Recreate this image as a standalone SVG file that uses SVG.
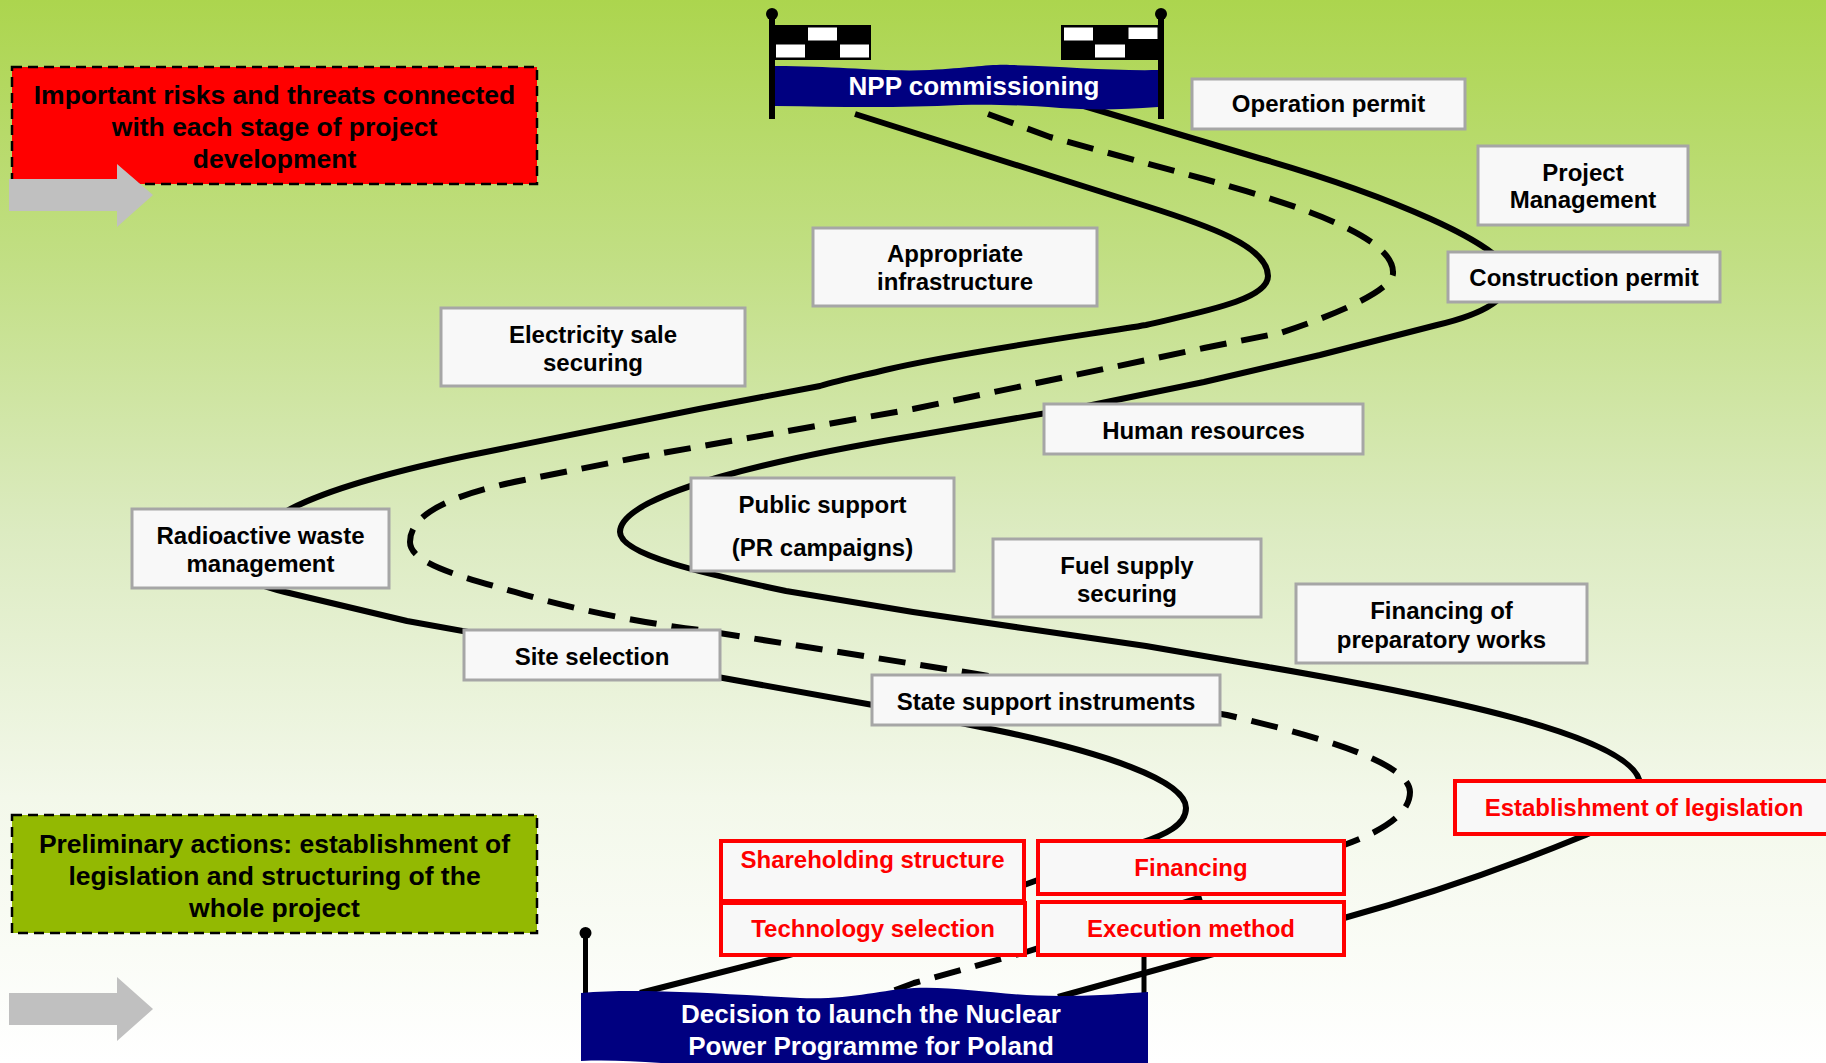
<svg xmlns="http://www.w3.org/2000/svg" width="1826" height="1063" viewBox="0 0 1826 1063">
<defs>
<linearGradient id="bg" x1="0" y1="0" x2="0" y2="1">
<stop offset="0" stop-color="#ACD54E"/>
<stop offset="0.25" stop-color="#C2DF85"/>
<stop offset="0.5" stop-color="#DCEBC1"/>
<stop offset="0.75" stop-color="#F3F8EA"/>
<stop offset="1" stop-color="#FFFFFF"/>
</linearGradient>
<style>
text{font-family:"Liberation Sans",Arial,sans-serif;font-weight:bold;text-anchor:middle}
.road{fill:none;stroke:#000;stroke-width:6;stroke-linejoin:round}
.dash{stroke-dasharray:27 15}
.box{fill:#F8F8F8;stroke:#A6A6A6;stroke-width:3}
.rbox{fill:#F8F8F8;stroke:#FF0000;stroke-width:4}
.lbl{font-size:24px;fill:#000}
.rlbl{font-size:24px;fill:#FF0000}
.big{font-size:26.5px;fill:#000}
.wt{font-size:26px;fill:#FFFFFF}
.note{stroke:#000;stroke-width:2.5;stroke-dasharray:10 6}
.arrow{fill:#C0C0C0}
.navy{fill:#000080}
</style>
</defs>
<rect x="0" y="0" width="1826" height="1063" fill="url(#bg)"/>

<g id="connectors">
<path class="road" d="M855,114 L1146,206 C1206,225 1268,246 1268,276 C1268,300 1201,312 1146,325 C1100,333 960,352 885,370 C860,376 840,380 820,386 L699,409 L466,456 C400,470 320,490 280,515 C215,550 215,575 285,592 L407,621 L873,705 L1000,731 C1100,752 1186,780 1186,808 C1186,825 1165,835 1140,843 L1024,885 L789,955 L640,993"/>
<path class="road dash" d="M988,114 L1050,137 L1204,179 C1290,203 1393,235 1393,272 C1395,292 1320,320 1280,333 L1204,348 L913,409 L640,457 L524,480 C464,492 410,510 410,542 C410,565 469,578.6 524,594.6 C580,611 650,624 700,630 L971,673 L1227,715 C1300,732 1410,760 1410,792 C1410,815 1380,832 1344,845 L1202,897 L1026,952 L914,983 L890,992"/>
<path class="road" d="M1084,106 L1262,159 C1380,193 1510,245 1510,277 C1510,300 1480,315 1437,325 L1320,355 L1204,382 L1087,406 L913,436 C793,456 620,492 620,532 C620,555 706,574 786,591 L913,612 L1029,629 L1146,646 L1262,666 C1420,693 1640,735 1640,785 C1640,812 1615,822 1583,836 C1510,866 1420,897 1344,918 L1058,997"/>
</g>

<g id="legend-risks">
<rect x="12" y="67" width="525" height="117" fill="#FF0000" class="note"/>
<text class="big" x="274.5" y="103.5">Important risks and threats connected</text>
<text class="big" x="274.5" y="136">with each stage of project</text>
<text class="big" x="274.5" y="168">development</text>
<polygon class="arrow" points="9,179 117,179 117,164 153,195 117,227 117,211 9,211"/>
</g>

<g id="legend-preliminary">
<rect x="12" y="815" width="525" height="118" fill="#93B902" class="note"/>
<text class="big" x="274.5" y="852.5">Preliminary actions: establishment of</text>
<text class="big" x="274.5" y="884.5">legislation and structuring of the</text>
<text class="big" x="274.5" y="916.5">whole project</text>
<polygon class="arrow" points="9,993 117,993 117,977 153,1009 117,1041 117,1025 9,1025"/>
</g>

<g id="finish-banner">
<rect x="769" y="14" width="6" height="105" fill="#000"/>
<circle cx="772" cy="14" r="6" fill="#000"/>
<rect x="1158" y="14" width="6" height="105" fill="#000"/>
<circle cx="1161" cy="14" r="6" fill="#000"/>
<rect x="775" y="25" width="96" height="35" fill="#000"/>
<rect x="808" y="27.5" width="29" height="13" fill="#FFF"/>
<rect x="776" y="44.5" width="29" height="13" fill="#FFF"/>
<rect x="840" y="44.5" width="29" height="13" fill="#FFF"/>
<rect x="1061" y="25" width="97" height="35" fill="#000"/>
<rect x="1064" y="27.5" width="29" height="13" fill="#FFF"/>
<rect x="1128.5" y="27.5" width="29" height="11.5" fill="#FFF"/>
<rect x="1095" y="44.5" width="30" height="13" fill="#FFF"/>
<path class="navy" d="M775,66 C840,66 880,72 930,70 C970,68 990,64 1010,65 C1060,66 1110,71 1158,70 L1158,107 C1120,110 1090,110 1060,108 C1020,105 990,104 960,105 C900,108 840,107 775,106 Z"/>
<text class="wt" x="974" y="95">NPP commissioning</text>
</g>

<g id="start-banner">
<rect x="583" y="933" width="5" height="62" fill="#000"/>
<circle cx="585.5" cy="933" r="6" fill="#000"/>
<rect x="1141.5" y="950" width="5" height="48" fill="#000"/>
<path class="navy" d="M581,993 C640,988 720,994 800,998 C850,1000 880,990 914,988 C960,986 1000,996 1061,996 C1100,996 1130,993 1148,992 L1148,1066 C1000,1070 900,1060 800,1066 C700,1070 640,1058 581,1061 Z"/>
<text class="wt" x="871" y="1022.5">Decision to launch the Nuclear</text>
<text class="wt" x="871" y="1054.5">Power Programme for Poland</text>
</g>

<g id="operation-permit">
<rect class="box" x="1192" y="79" width="273" height="50"/>
<text class="lbl" x="1328.5" y="112">Operation permit</text>
</g>
<g id="project-management">
<rect class="box" x="1478" y="146" width="210" height="79"/>
<text class="lbl" x="1583" y="180.5">Project</text>
<text class="lbl" x="1583" y="207.5">Management</text>
</g>
<g id="construction-permit">
<rect class="box" x="1448" y="252" width="272" height="50"/>
<text class="lbl" x="1584" y="286">Construction permit</text>
</g>
<g id="appropriate-infrastructure">
<rect class="box" x="813" y="228" width="284" height="78"/>
<text class="lbl" x="955" y="262">Appropriate</text>
<text class="lbl" x="955" y="290">infrastructure</text>
</g>
<g id="electricity-sale">
<rect class="box" x="441" y="308" width="304" height="78"/>
<text class="lbl" x="593" y="342.5">Electricity sale</text>
<text class="lbl" x="593" y="371">securing</text>
</g>
<g id="human-resources">
<rect class="box" x="1044" y="404" width="319" height="50"/>
<text class="lbl" x="1203.5" y="439">Human resources</text>
</g>
<g id="radioactive-waste">
<rect class="box" x="132" y="509" width="257" height="79"/>
<text class="lbl" x="260.5" y="543.5">Radioactive waste</text>
<text class="lbl" x="260.5" y="571.5">management</text>
</g>
<g id="public-support">
<rect class="box" x="691" y="478" width="263" height="93"/>
<text class="lbl" x="822.5" y="512.5">Public support</text>
<text class="lbl" x="822.5" y="555.5">(PR campaigns)</text>
</g>
<g id="site-selection">
<rect class="box" x="464" y="630" width="256" height="50"/>
<text class="lbl" x="592" y="664.5">Site selection</text>
</g>
<g id="fuel-supply">
<rect class="box" x="993" y="539" width="268" height="78"/>
<text class="lbl" x="1127" y="574">Fuel supply</text>
<text class="lbl" x="1127" y="602">securing</text>
</g>
<g id="financing-preparatory">
<rect class="box" x="1296" y="584" width="291" height="79"/>
<text class="lbl" x="1441.5" y="619">Financing of</text>
<text class="lbl" x="1441.5" y="648">preparatory works</text>
</g>
<g id="state-support">
<rect class="box" x="872" y="675" width="348" height="50"/>
<text class="lbl" x="1046" y="709.5">State support instruments</text>
</g>
<g id="establishment-legislation">
<rect class="rbox" x="1455" y="781" width="380" height="53"/>
<text class="rlbl" x="1644" y="816">Establishment of legislation</text>
</g>
<g id="shareholding-structure">
<rect class="rbox" x="721" y="841" width="303" height="60"/>
<text class="rlbl" x="872.5" y="868">Shareholding structure</text>
</g>
<g id="technology-selection">
<rect class="rbox" x="721" y="903" width="304" height="52"/>
<text class="rlbl" x="873" y="936.5">Technology selection</text>
</g>
<g id="financing">
<rect class="rbox" x="1038" y="841" width="306" height="53"/>
<text class="rlbl" x="1191" y="876">Financing</text>
</g>
<g id="execution-method">
<rect class="rbox" x="1038" y="902" width="306" height="53"/>
<text class="rlbl" x="1191" y="936.5">Execution method</text>
</g>
</svg>
